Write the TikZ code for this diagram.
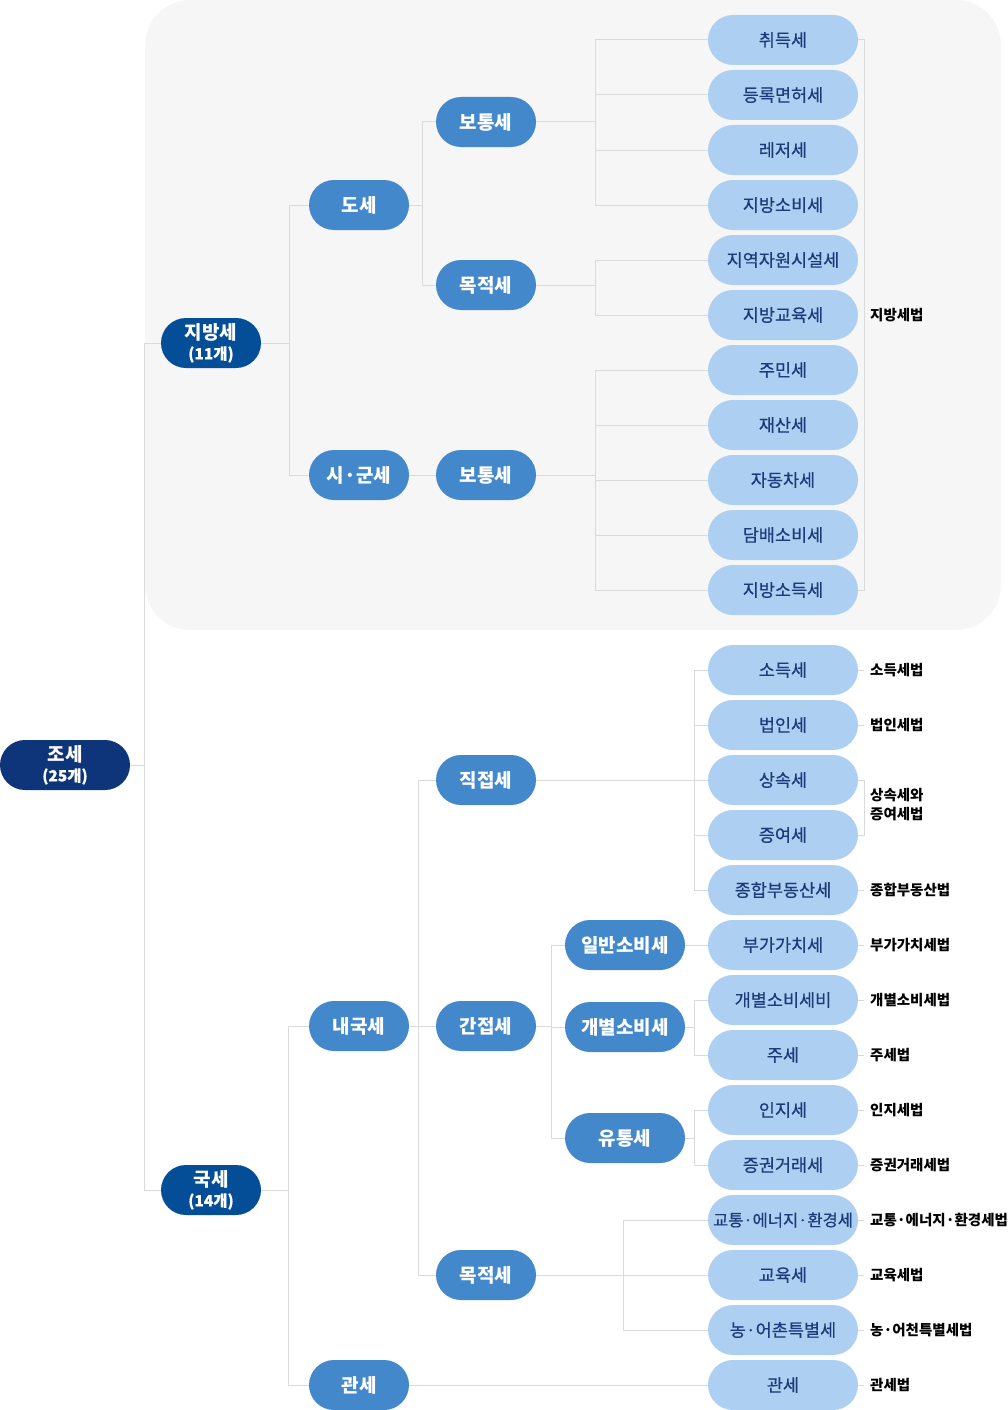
\documentclass[tikz,border=0pt]{standalone}
\usepackage{fontspec}
\setmainfont{Noto Sans CJK KR}
\newfontfamily\leaffont[FakeBold=0.5]{Noto Sans CJK KR}
\definecolor{cRoot}{HTML}{0E3479}
\definecolor{cLvl}{HTML}{034E97}
\definecolor{cMid}{HTML}{4388CB}
\definecolor{cLeaf}{HTML}{ACCFF2}
\definecolor{cLeafText}{HTML}{1B3C78}
\definecolor{cLine}{HTML}{DADADA}
\definecolor{cPanel}{HTML}{F6F6F6}
\tikzset{
  pill/.style={rectangle, rounded corners=25pt, minimum height=50pt, inner sep=0pt, text=white, font=\bfseries\fontsize{19}{21}\selectfont},
  rootn/.style={pill, fill=cRoot, minimum width=130pt, align=center},
  lvl/.style={pill, fill=cLvl, minimum width=100pt, align=center},
  mid/.style={pill, fill=cMid, minimum width=100pt},
  midw/.style={mid, minimum width=120pt},
  leaf/.style={pill, fill=cLeaf, minimum width=150pt, text=cLeafText, font=\leaffont\fontsize{17.5}{19}\selectfont},
  law/.style={anchor=west, inner xsep=6pt, inner ysep=0pt, text=black, align=left, font=\bfseries\fontsize{14.5}{19}\selectfont},
  conn/.style={draw=cLine, line width=1pt},
}
\newcommand{\cnt}[1]{{\leaffont\fontsize{15.5}{16}\selectfont #1}}
\begin{document}
\begin{tikzpicture}[x=1pt,y=-1pt]
\useasboundingbox (0,0) rectangle (1007,1410);
\fill[cPanel, rounded corners=45pt] (145,0) rectangle (1001,630);

% trunk coordinates
\coordinate (t0) at (144,0);
\coordinate (t1) at (289,0);
\coordinate (t2) at (422,0);
\coordinate (t3) at (595,0);
\coordinate (t4) at (288,0);
\coordinate (t5) at (418,0);
\coordinate (t6) at (694,0);
\coordinate (t7) at (551,0);
\coordinate (t8) at (623,0);
\coordinate (br) at (864,0);

% nodes
\node[rootn] (root) at (65,765) {조세\\[-1pt]\cnt{(25개)}};
\node[lvl] (jb) at (211,343) {지방세\\[-1pt]\cnt{(11개)}};
\node[lvl] (gs) at (211,1190) {국세\\[-1pt]\cnt{(14개)}};

\node[mid] (ds) at (359,205) {도세};
\node[mid] (sg) at (359,475) {시·군세};
\node[mid] (ng) at (359,1026) {내국세};
\node[mid] (gw) at (359,1385) {관세};

\node[mid] (bt1) at (486,122) {보통세};
\node[mid] (mj1) at (486,285) {목적세};
\node[mid] (bt2) at (486,475) {보통세};
\node[mid] (jj) at (486,780) {직접세};
\node[mid] (gj) at (486,1026) {간접세};
\node[mid] (mj2) at (486,1275) {목적세};

\node[midw] (ib) at (625,945) {일반소비세};
\node[midw] (gb) at (625,1027) {개별소비세};
\node[midw] (yt) at (625,1138) {유통세};

\node[leaf] (l1) at (783,40) {취득세};
\node[leaf] (l2) at (783,95) {등록면허세};
\node[leaf] (l3) at (783,150) {레저세};
\node[leaf] (l4) at (783,205) {지방소비세};
\node[leaf] (l5) at (783,260) {지역자원시설세};
\node[leaf] (l6) at (783,315) {지방교육세};
\node[leaf] (l7) at (783,370) {주민세};
\node[leaf] (l8) at (783,425) {재산세};
\node[leaf] (l9) at (783,480) {자동차세};
\node[leaf] (l10) at (783,535) {담배소비세};
\node[leaf] (l11) at (783,590) {지방소득세};
\node[leaf] (l12) at (783,670) {소득세};
\node[leaf] (l13) at (783,725) {법인세};
\node[leaf] (l14) at (783,780) {상속세};
\node[leaf] (l15) at (783,835) {증여세};
\node[leaf] (l16) at (783,890) {종합부동산세};
\node[leaf] (l17) at (783,945) {부가가치세};
\node[leaf] (l18) at (783,1000) {개별소비세비};
\node[leaf] (l19) at (783,1055) {주세};
\node[leaf] (l20) at (783,1110) {인지세};
\node[leaf] (l21) at (783,1165) {증권거래세};
\node[leaf, font=\leaffont\fontsize{16.5}{18}\selectfont] (l22) at (783,1220) {교통·에너지·환경세};
\node[leaf] (l23) at (783,1275) {교육세};
\node[leaf] (l24) at (783,1330) {농·어촌특별세};
\node[leaf] (l25) at (783,1385) {관세};

% laws
\node[law] (w1) at (864,315) {지방세법};
\node[law] (w12) at (864,670) {소득세법};
\node[law] (w13) at (864,725) {법인세법};
\node[law] (w14) at (864,805) {상속세와\\증여세법};
\node[law] (w16) at (864,890) {종합부동산법};
\node[law] (w17) at (864,945) {부가가치세법};
\node[law] (w18) at (864,1000) {개별소비세법};
\node[law] (w19) at (864,1055) {주세법};
\node[law] (w20) at (864,1110) {인지세법};
\node[law] (w21) at (864,1165) {증권거래세법};
\node[law] (w22) at (864,1220) {교통·에너지·환경세법};
\node[law] (w23) at (864,1275) {교육세법};
\node[law] (w24) at (864,1330) {농·어천특별세법};
\node[law] (w25) at (864,1385) {관세법};

% root
\draw[conn] (root.east) -- (t0 |- root.east);
\draw[conn] (jb.west) -- (t0 |- jb.west) -- (t0 |- gs.west) -- (gs.west);
% 지방세
\draw[conn] (jb.east) -- (t1 |- jb.east);
\draw[conn] (ds.west) -- (t1 |- ds.west) -- (t1 |- sg.west) -- (sg.west);
% 도세
\draw[conn] (ds.east) -- (t2 |- ds.east);
\draw[conn] (bt1.west) -- (t2 |- bt1.west) -- (t2 |- mj1.west) -- (mj1.west);
% 보통세 1
\draw[conn] (bt1.east) -- (t3 |- bt1.east);
\draw[conn] (l1.west) -- (t3 |- l1.west) -- (t3 |- l4.west) -- (l4.west);
\draw[conn] (l2.west) -- (t3 |- l2.west);
\draw[conn] (l3.west) -- (t3 |- l3.west);
% 목적세 1
\draw[conn] (mj1.east) -- (t3 |- mj1.east);
\draw[conn] (l5.west) -- (t3 |- l5.west) -- (t3 |- l6.west) -- (l6.west);
% 시군세
\draw[conn] (sg.east) -- (bt2.west);
\draw[conn] (bt2.east) -- (t3 |- bt2.east);
\draw[conn] (l7.west) -- (t3 |- l7.west) -- (t3 |- l11.west) -- (l11.west);
\draw[conn] (l8.west) -- (t3 |- l8.west);
\draw[conn] (l9.west) -- (t3 |- l9.west);
\draw[conn] (l10.west) -- (t3 |- l10.west);
% 지방세법 bracket
\draw[conn] (l1.east) -- (br |- l1.east) -- (br |- l11.east) -- (l11.east);
% 국세
\draw[conn] (gs.east) -- (t4 |- gs.east);
\draw[conn] (ng.west) -- (t4 |- ng.west) -- (t4 |- gw.west) -- (gw.west);
% 내국세
\draw[conn] (ng.east) -- (t5 |- ng.east);
\draw[conn] (jj.west) -- (t5 |- jj.west) -- (t5 |- mj2.west) -- (mj2.west);
\draw[conn] (gj.west) -- (t5 |- gj.west);
% 직접세
\draw[conn] (jj.east) -- (t6 |- jj.east);
\draw[conn] (l12.west) -- (t6 |- l12.west) -- (t6 |- l16.west) -- (l16.west);
\draw[conn] (l13.west) -- (t6 |- l13.west);
\draw[conn] (l14.west) -- (t6 |- l14.west);
\draw[conn] (l15.west) -- (t6 |- l15.west);
% 간접세
\draw[conn] (gj.east) -- (t7 |- gj.east);
\draw[conn] (ib.west) -- (t7 |- ib.west) -- (t7 |- yt.west) -- (yt.west);
\draw[conn] (gb.west) -- (t7 |- gb.west);
\draw[conn] (ib.east) -- (l17.west);
\draw[conn] (gb.east) -- (t6 |- gb.east);
\draw[conn] (l18.west) -- (t6 |- l18.west) -- (t6 |- l19.west) -- (l19.west);
\draw[conn] (yt.east) -- (t6 |- yt.east);
\draw[conn] (l20.west) -- (t6 |- l20.west) -- (t6 |- l21.west) -- (l21.west);
% 목적세 2
\draw[conn] (mj2.east) -- (t8 |- mj2.east);
\draw[conn] (l22.west) -- (t8 |- l22.west) -- (t8 |- l24.west) -- (l24.west);
\draw[conn] (l23.west) -- (t8 |- l23.west);
% 관세
\draw[conn] (gw.east) -- (l25.west);
% law connectors
\draw[conn] (l12.east) -- (w12.west);
\draw[conn] (l13.east) -- (w13.west);
\draw[conn] (l14.east) -- (br |- l14.east) -- (br |- l15.east) -- (l15.east);
\draw[conn] (l16.east) -- (w16.west);
\draw[conn] (l17.east) -- (w17.west);
\draw[conn] (l18.east) -- (w18.west);
\draw[conn] (l19.east) -- (w19.west);
\draw[conn] (l20.east) -- (w20.west);
\draw[conn] (l21.east) -- (w21.west);
\draw[conn] (l22.east) -- (w22.west);
\draw[conn] (l23.east) -- (w23.west);
\draw[conn] (l24.east) -- (w24.west);
\draw[conn] (l25.east) -- (w25.west);
\end{tikzpicture}
\end{document}
